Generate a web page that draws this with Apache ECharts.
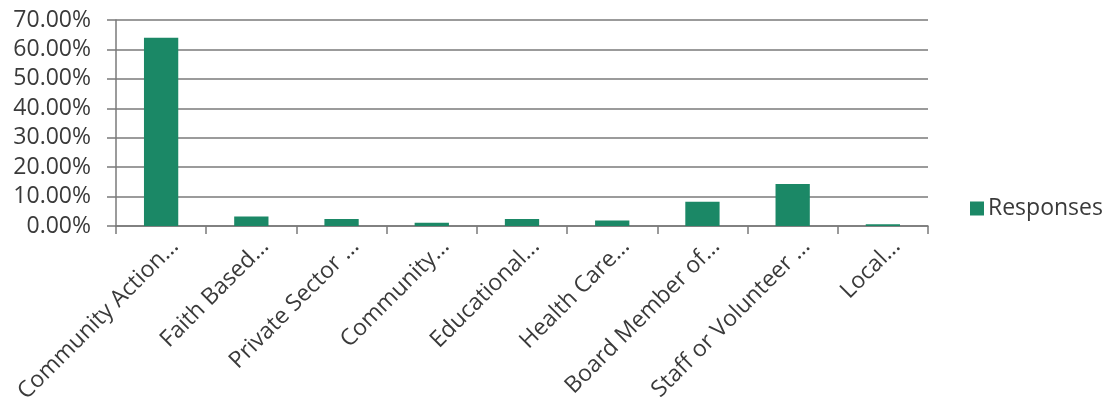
<!DOCTYPE html>
<html>
<head>
<meta charset="utf-8">
<script src="https://cdn.jsdelivr.net/npm/echarts@6/dist/echarts.min.js"></script>
<style>
  html, body { margin: 0; padding: 0; background: #fff; }
  #main { width: 1106px; height: 403px; }
</style>
</head>
<body>
<div id="main"></div>
<script>
// 类别与数值
var categories = ['Community Action...', 'Faith Based...', 'Private Sector ...', 'Community...',
    'Educational...', 'Health Care...', 'Board Member of...', 'Staff or Volunteer ...', 'Local...'];
var responses = [64.0, 3.2, 2.4, 1.1, 2.4, 1.9, 8.2, 14.3, 0.6];
var yTicks = [0, 10, 20, 30, 40, 50, 60, 70];

var fontName = '"Open Sans", sans-serif';
var textColor = '#3a3a3a';
var lineColor = '#7a7a7a';

var myChart = echarts.init(document.getElementById('main'));
var option = {
    animation: false,
    textStyle: { fontFamily: fontName },
    grid: {
        left: 116,
        right: 178,
        top: 20,
        bottom: 177,
        outerBoundsMode: 'none'
    },
    legend: {
        left: 970,
        top: 197,
        padding: 0,
        itemWidth: 14,
        itemHeight: 14,
        itemGap: 6,
        icon: 'rect',
        textStyle: { fontSize: 23, color: textColor, fontFamily: fontName, padding: [0, 0, 0, -1] },
        data: ['Responses']
    },
    xAxis: {
        type: 'category',
        data: categories,
        axisLine: { show: true, lineStyle: { color: lineColor, width: 1.5 } },
        axisTick: { show: true, length: 8, lineStyle: { color: lineColor, width: 1.5 } },
        axisLabel: {
            interval: 0,
            rotate: 45,
            margin: 3,
            verticalAlign: 'top',
            padding: [8, 0, 0, 0],
            fontSize: 23,
            color: textColor,
            fontFamily: fontName
        }
    },
    yAxis: {
        type: 'value',
        min: yTicks[0],
        max: yTicks[yTicks.length - 1],
        interval: 10,
        axisLine: { show: true, lineStyle: { color: lineColor, width: 1.5 } },
        axisTick: { show: true, length: 9, lineStyle: { color: lineColor, width: 1.5 } },
        splitLine: { show: true, lineStyle: { color: lineColor, width: 1.5 } },
        axisLabel: {
            margin: 25,
            fontSize: 23,
            color: textColor,
            fontFamily: fontName,
            formatter: function (v) { return v.toFixed(2) + '%'; }
        }
    },
    series: [{
        name: 'Responses',
        type: 'bar',
        barWidth: '38%',
        itemStyle: { color: '#1b8866' },
        data: responses
    }]
};
myChart.setOption(option);
</script>
</body>
</html>
